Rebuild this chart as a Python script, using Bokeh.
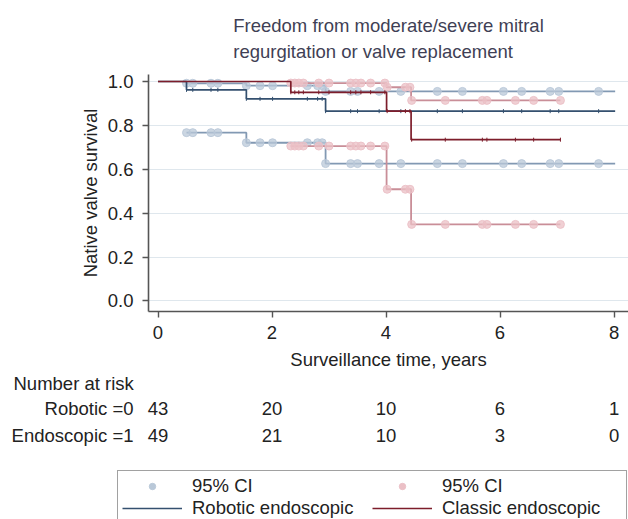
import numpy as np
from bokeh.plotting import figure
from bokeh.layouts import column
from bokeh.models import (Range1d, FixedTicker, NumeralTickFormatter, Legend, LegendItem)
from bokeh.embed import file_html
from bokeh.resources import INLINE
from bokeh.core.properties import value

# ---------------- data ----------------
robotic_event_times = [0.0, 0.50, 1.55, 2.94]
robotic_surv = [1.0, 0.962, 0.921, 0.865]
robotic_ci_upper = [1.0, 0.992, 0.981, 0.955]
robotic_ci_lower = [1.0, 0.767, 0.721, 0.626]
robotic_end_time = 8.02
robotic_marker_times = [0.50, 0.61, 0.93, 1.05, 1.55, 1.79, 2.01, 2.62, 2.80, 2.88,
                        2.94, 3.38, 3.50, 3.88, 4.26, 4.90, 5.34, 6.06, 6.38, 6.88,
                        7.03, 7.73]

classic_event_times = [0.0, 2.33, 4.01, 4.44]
classic_surv = [1.0, 0.951, 0.865, 0.735]
classic_ci_upper = [1.0, 0.993, 0.974, 0.914]
classic_ci_lower = [1.0, 0.706, 0.509, 0.349]
classic_end_time = 7.06
classic_marker_times = [2.33, 2.40, 2.47, 2.55, 2.82, 3.00, 3.38, 3.47, 3.56, 3.73,
                        3.98, 4.02, 4.34, 4.42, 4.45, 5.04, 5.69, 5.77, 6.27, 6.59,
                        7.06]

risk_times = [0, 2, 4, 6, 8]
robotic_at_risk = [43, 20, 10, 6, 1]
classic_at_risk = [49, 21, 10, 3, 0]
y_ticks = [0.0, 0.2, 0.4, 0.6, 0.8, 1.0]

title_text = "Freedom from moderate/severe mitral\nregurgitation or valve replacement"
y_label = "Native valve survival"
x_label = "Surveillance time, years"
risk_header = "Number at risk"
risk_row_labels = ["Robotic =0", "Endoscopic =1"]
legend_labels = ["95% CI", "95% CI", "Robotic endoscopic", "Classic endoscopic"]

# ---------------- styling / layout ----------------
FONT = "Liberation Sans"
FS = "18.5px"
BLUE_LINE = "#34506f"
RED_LINE = "#7d1d2b"
BLUE_CI = "#8299b3"
RED_CI = "#c98e98"
BLUE_MK = "#b9c8d8"
RED_MK = "#ebc0c6"
AXIS_C = "#555555"
TXT_C = "#222222"

W, H = 628, 519
MAIN_H = 373
TAB_H = H - MAIN_H
FR_L, FR_T, FR_B = 148, 74, 311          # main frame edges in page pixels
X0, X1 = -0.1667, 8.254
Y0, Y1 = -0.048, 1.032
PX_X = (W - FR_L) / (X1 - X0)


def step_lookup(times, vals, at):
    idx = np.searchsorted(np.asarray(times), np.asarray(at), side="right") - 1
    return list(np.asarray(vals)[idx])


p = figure(width=W, height=MAIN_H, x_range=Range1d(X0, X1), y_range=Range1d(Y0, Y1),
           output_backend="svg", toolbar_location=None,
           min_border_left=FR_L, min_border_right=0,
           min_border_top=FR_T, min_border_bottom=MAIN_H - FR_B)
p.frame_align = False
p.outline_line_color = None
p.background_fill_color = "white"
p.border_fill_color = "white"

p.title.text = title_text
p.title.align = "center"
p.title.text_font = FONT
p.title.text_font_size = FS
p.title.text_font_style = "normal"
p.title.text_color = "#3f3f55"
p.title.text_line_height = 1.23
p.title.standoff = 25

p.xgrid.visible = False
p.ygrid.grid_line_color = "#dfe7ed"
p.ygrid.grid_line_width = 1
p.ygrid.ticker = FixedTicker(ticks=y_ticks)

for ax in (p.xaxis[0], p.yaxis[0]):
    ax.axis_line_color = AXIS_C
    ax.axis_line_width = 1.6
    ax.major_tick_line_color = AXIS_C
    ax.major_tick_line_width = 1.4
    ax.major_tick_in = 0
    ax.major_tick_out = 6
    ax.minor_tick_line_color = None
    ax.major_label_text_font = FONT
    ax.major_label_text_font_size = FS
    ax.major_label_text_color = TXT_C
    ax.axis_label_text_font = FONT
    ax.axis_label_text_font_size = FS
    ax.axis_label_text_font_style = "normal"
    ax.axis_label_text_color = TXT_C

p.xaxis.ticker = FixedTicker(ticks=risk_times)
p.yaxis.ticker = FixedTicker(ticks=y_ticks)
p.yaxis.formatter = NumeralTickFormatter(format="0.0")
p.xaxis.axis_label = x_label
p.yaxis.axis_label = y_label
p.xaxis.major_label_standoff = 8
p.yaxis.major_label_standoff = 9
p.xaxis.axis_label_standoff = 7
p.yaxis.axis_label_standoff = 4

groups = [
    (robotic_event_times, robotic_surv, robotic_ci_upper, robotic_ci_lower,
     robotic_end_time, robotic_marker_times, BLUE_LINE, BLUE_CI, BLUE_MK),
    (classic_event_times, classic_surv, classic_ci_upper, classic_ci_lower,
     classic_end_time, classic_marker_times, RED_LINE, RED_CI, RED_MK),
]

for times, surv, up, lo, end, mts, lc, cc, mc in groups:
    for ci in (up, lo):
        xs = list(times[1:]) + [end]
        ys = list(ci[1:]) + [ci[-1]]
        p.step(x=xs, y=ys, mode="after", line_color=cc, line_width=1.8)
        p.scatter(x=mts, y=step_lookup(times, ci, mts), size=8, marker="circle",
                  fill_color=mc, fill_alpha=0.75, line_color=mc, line_alpha=0.9)

for times, surv, up, lo, end, mts, lc, cc, mc in groups:
    xs = list(times) + [end]
    ys = list(surv) + [surv[-1]]
    p.step(x=xs, y=ys, mode="after", line_color=lc, line_width=1.7)
    p.scatter(x=mts, y=step_lookup(times, surv, mts), marker="dash", angle=np.pi / 2,
              size=4, line_color=lc, line_width=1)

# ---------------- number-at-risk table + legend (second figure) ----------------
TX0 = X0 - FR_L / PX_X            # same x scale as the main plot, full-width frame
t = figure(width=W, height=TAB_H, x_range=Range1d(TX0, X1), y_range=Range1d(TAB_H, 0),
           output_backend="svg", toolbar_location=None,
           min_border_left=0, min_border_right=0, min_border_top=0, min_border_bottom=0)
t.frame_align = False
t.axis.visible = False
t.grid.visible = False
t.outline_line_color = None


def tx(px):
    return TX0 + px / PX_X


def ty(py):
    return py - MAIN_H


txt = dict(text_font=value(FONT), text_font_size=FS, text_color=TXT_C,
           text_baseline="middle")
t.text(x=[tx(13)], y=[ty(383)], text=[risk_header], text_align="left", **txt)
row_py = [408, 435]
t.text(x=[tx(133)] * 2, y=[ty(v) for v in row_py], text=risk_row_labels,
       text_align="right", **txt)
for counts, py in ((robotic_at_risk, row_py[0]), (classic_at_risk, row_py[1])):
    t.text(x=risk_times, y=[ty(py)] * len(risk_times), text=[str(c) for c in counts],
           text_align="center", **txt)

# legend-only renderers (no visible data)
nan = float("nan")
leg_blue_ci = t.scatter(x=[nan], y=[nan], size=6, fill_color=BLUE_MK, line_color=BLUE_MK)
leg_red_ci = t.scatter(x=[nan], y=[nan], size=6, fill_color=RED_MK, line_color=RED_MK)
leg_blue = t.line(x=[nan, nan], y=[nan, nan], line_color=BLUE_LINE, line_width=1.6)
leg_red = t.line(x=[nan, nan], y=[nan, nan], line_color=RED_LINE, line_width=1.6)

legend = Legend(items=[LegendItem(label=legend_labels[0], renderers=[leg_blue_ci]),
                       LegendItem(label=legend_labels[1], renderers=[leg_red_ci]),
                       LegendItem(label=legend_labels[2], renderers=[leg_blue]),
                       LegendItem(label=legend_labels[3], renderers=[leg_red])],
                orientation="horizontal", ncols=2,
                location=(117, -5),
                glyph_width=60, glyph_height=16, label_standoff=10,
                label_width=180, label_height=16, padding=4, spacing=0, margin=0,
                label_text_font=FONT, label_text_font_size=FS,
                label_text_color=TXT_C, border_line_color="#444444",
                border_line_width=1.3, background_fill_color="white",
                background_fill_alpha=1.0)
t.add_layout(legend)

layout = column(p, t, spacing=0)
open("out.html", "w").write(file_html(layout, INLINE))
